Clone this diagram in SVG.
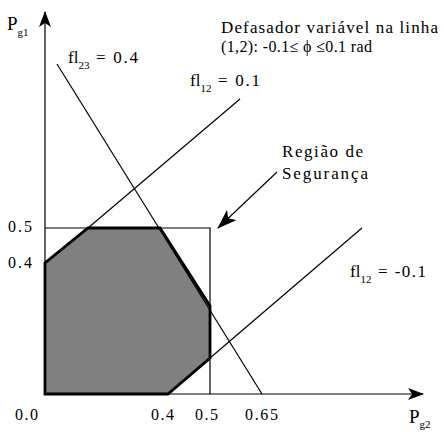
<svg xmlns="http://www.w3.org/2000/svg" width="444" height="432" viewBox="0 0 444 432">
<style>
text{font-family:"Liberation Serif","DejaVu Serif",serif;font-size:16px;fill:#000}
.big{font-size:17px}
.mid{font-size:16px}
.sub{font-size:11px}
.fl{font-size:17px}
.P{font-size:19px}
.Ps{font-size:11px}
.thin{stroke:#000;stroke-width:1.2;fill:none}
</style>
<defs>
<marker id="ah" viewBox="0 0 16 12" refX="15" refY="6" markerWidth="16" markerHeight="12" markerUnits="userSpaceOnUse" orient="auto">
<path d="M0,0 L16,6 L0,12 L4,6 Z" fill="#000"/>
</marker>
<marker id="ah2" viewBox="0 0 20 14" refX="19" refY="7" markerWidth="20" markerHeight="14" markerUnits="userSpaceOnUse" orient="auto">
<path d="M0,0 L20,7 L0,14 L5,7 Z" fill="#000"/>
</marker>
</defs>
<rect width="444" height="432" fill="#fff"/>
<g id="region">
<polygon points="45,394 45,263 88,228 160,228 210,306 210,358 168,394" fill="#808080" stroke="#000" stroke-width="2.8" stroke-linejoin="miter"/>
</g>
<g id="connectors">
<line class="thin" x1="45" y1="394" x2="45" y2="12" marker-end="url(#ah)"/>
<line class="thin" x1="45" y1="394" x2="423" y2="394" marker-end="url(#ah)"/>
<polyline class="thin" points="45,228 210,228 210,394"/>
<line class="thin" x1="57" y1="64" x2="262" y2="394"/>
<line class="thin" x1="88" y1="228" x2="240" y2="99"/>
<line class="thin" x1="210" y1="358" x2="362" y2="228"/>
<line class="thin" x1="277" y1="172" x2="218" y2="228" marker-end="url(#ah2)"/>
</g>
<g id="labels">
<text class="P" x="7" y="30">P<tspan class="Ps" dy="6">g1</tspan></text>
<text class="P" x="409" y="423">P<tspan class="Ps" dy="5">g2</tspan></text>
<text class="fl" x="68" y="63">fl<tspan class="sub" dy="6">23</tspan></text>
<text class="fl" x="96" y="63" textLength="42" lengthAdjust="spacing">= 0.4</text>
<text class="fl" x="190" y="86">fl<tspan class="sub" dy="6">12</tspan></text>
<text class="fl" x="218" y="86" textLength="42" lengthAdjust="spacing">= 0.1</text>
<text class="fl" x="350" y="277">fl<tspan class="sub" dy="6">12</tspan></text>
<text class="fl" x="378" y="277" textLength="48" lengthAdjust="spacing">= -0.1</text>
<text class="big" x="221" y="33" textLength="217" lengthAdjust="spacing">Defasador variável na linha</text>
<text class="mid" x="221" y="52" textLength="151" lengthAdjust="spacing">(1,2): -0.1≤ ϕ ≤0.1 rad</text>
<text class="big" x="282" y="157" textLength="81" lengthAdjust="spacing">Região de</text>
<text class="big" x="282" y="179" textLength="86" lengthAdjust="spacing">Segurança</text>
<text x="8" y="232" textLength="24" lengthAdjust="spacing">0.5</text>
<text x="8" y="268" textLength="24" lengthAdjust="spacing">0.4</text>
<text x="15" y="420" textLength="23" lengthAdjust="spacing">0.0</text>
<text x="151" y="420" textLength="23" lengthAdjust="spacing">0.4</text>
<text x="195" y="420" textLength="23" lengthAdjust="spacing">0.5</text>
<text x="245" y="420" textLength="33" lengthAdjust="spacing">0.65</text>
</g>
</svg>
